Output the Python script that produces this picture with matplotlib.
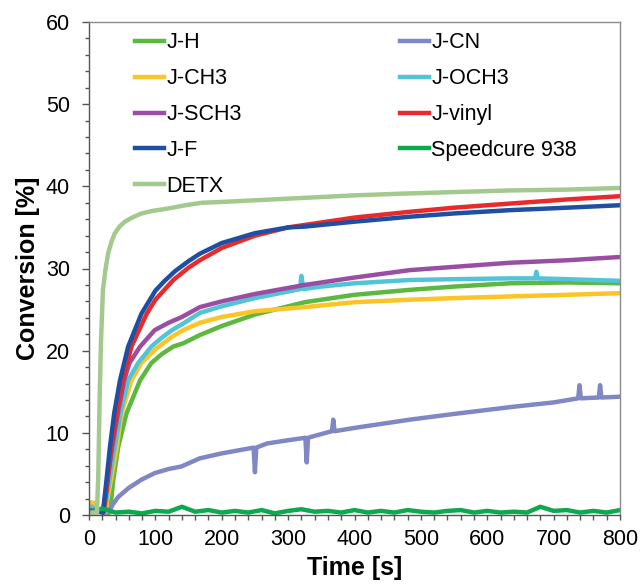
import numpy as np
import matplotlib
matplotlib.use("Agg")
import matplotlib.pyplot as plt
from matplotlib.ticker import MultipleLocator

plt.rcParams['font.family'] = ['Liberation Sans', 'DejaVu Sans']

# values, time in s, conversion in %
t_jh = [0, 15, 25, 31.6, 36.6, 44, 56.6, 77, 94, 110, 127, 142, 167, 200, 250, 325, 400, 483, 550, 634, 720, 800]
y_jh = [0.5, 0.5, 0.3, 0.3, 4.3, 8.3, 12.4, 16.4, 18.5, 19.6, 20.5, 20.9, 21.9, 23.0, 24.4, 25.9, 26.8, 27.4, 27.8, 28.2, 28.3, 28.2]

t_jcn = [0, 20, 29, 36, 44, 60, 79, 99, 120, 139, 167, 200, 248, 250, 252, 268, 300, 326, 328, 330, 343, 366, 368, 370,
         400, 483, 550, 642, 700, 737, 739, 741, 768, 770, 772, 800]
y_jcn = [0.5, 0.3, 0.3, 1.3, 2.2, 3.3, 4.3, 5.1, 5.6, 5.9, 6.9, 7.5, 8.2, 5.2, 8.2, 8.7, 9.1, 9.4, 6.4, 9.4, 9.7, 10.2, 11.6, 10.2,
         10.6, 11.6, 12.3, 13.2, 13.7, 14.2, 15.8, 14.2, 14.3, 15.8, 14.3, 14.4]

t_jch3 = [0, 8, 12, 18, 24, 33, 42, 49, 64, 79, 99, 125, 142, 167, 200, 250, 325, 400, 483, 550, 634, 720, 800]
y_jch3 = [1.5, 1.5, 0.5, 0.3, 0.3, 4.2, 8.3, 12.4, 16.4, 18.5, 20.1, 21.7, 22.5, 23.4, 24.1, 24.8, 25.3, 25.9, 26.2, 26.4, 26.6, 26.8, 27.0]

t_joch3 = [0, 5, 12, 18, 23, 31, 39, 48, 59, 74, 94, 110, 125, 142, 167, 200, 250, 300, 318, 320, 323, 350, 400, 483,
           550, 634, 672, 674, 676, 720, 800]
y_joch3 = [1.0, 1.0, 0.5, 0.3, 0.3, 4.3, 8.3, 12.6, 16.4, 18.5, 20.5, 21.6, 22.5, 23.3, 24.6, 25.4, 26.4, 27.2, 27.5, 29.1, 27.5,
           27.8, 28.2, 28.6, 28.7, 28.8, 28.8, 29.6, 28.8, 28.7, 28.5]

t_jsch3 = [0, 15, 21, 28, 35, 44, 53, 61, 77, 99, 120, 140, 167, 200, 250, 325, 400, 483, 550, 634, 720, 800]
y_jsch3 = [0.5, 0.5, 0.3, 4.5, 8.3, 12.6, 16.4, 18.5, 20.5, 22.5, 23.4, 24.1, 25.3, 26.0, 26.9, 28.0, 28.9, 29.8, 30.2, 30.7, 31.0, 31.4]

t_jvinyl = [0, 15, 22, 28, 34, 42, 50.7, 64, 87, 100, 127, 150, 167, 200, 250, 300, 325, 400, 483, 550, 634, 720, 800]
y_jvinyl = [0.5, 0.5, 0.3, 4.0, 8.3, 12.4, 16.4, 20.5, 24.5, 26.2, 28.6, 30.1, 31.0, 32.5, 34.0, 35.0, 35.3, 36.2, 36.9, 37.4, 37.9, 38.4, 38.8]

t_jf = [0, 15, 21, 26, 31.6, 38, 46.7, 59, 79, 100, 114, 130, 150, 167, 200, 250, 300, 325, 400, 483, 550, 634, 720, 800]
y_jf = [0.5, 0.5, 0.3, 4.0, 8.3, 12.4, 16.4, 20.5, 24.5, 27.3, 28.5, 29.7, 30.9, 31.8, 33.1, 34.3, 35.0, 35.1, 35.7, 36.3, 36.7, 37.1, 37.4, 37.7]

t_sc = list(range(0, 801, 20))
y_sc = [0.3, 0.8, 0.3, 0.4, 0.2, 0.5, 0.4, 1.0, 0.4, 0.6, 0.3, 0.5, 0.3, 0.6, 0.2, 0.5, 0.7, 0.4, 0.5, 0.3, 0.6,
        0.3, 0.5, 0.3, 0.6, 0.4, 0.3, 0.5, 0.6, 0.3, 0.5, 0.3, 0.4, 0.3, 1.0, 0.5, 0.6, 0.3, 0.5, 0.3, 0.6]

t_detx = [0, 12, 14, 16, 18, 21, 25, 29, 34, 39, 46, 54, 65, 79, 95, 119, 145, 170, 200, 250, 300, 350, 400, 468, 550, 634, 720, 800]
y_detx = [0.3, 0.3, 5, 14, 21, 27.4, 30, 31.9, 33.3, 34.3, 35.1, 35.7, 36.2, 36.7, 37.0, 37.3, 37.7, 38.0, 38.1, 38.3, 38.5,
          38.7, 38.9, 39.1, 39.3, 39.5, 39.6, 39.8]

series = [
    ("J-H", t_jh, y_jh, "#5cb83e"),
    ("J-CN", t_jcn, y_jcn, "#8087c5"),
    ("J-CH3", t_jch3, y_jch3, "#fdc426"),
    ("J-OCH3", t_joch3, y_joch3, "#52c4d8"),
    ("J-SCH3", t_jsch3, y_jsch3, "#9a4ea3"),
    ("J-vinyl", t_jvinyl, y_jvinyl, "#ea2a2a"),
    ("J-F", t_jf, y_jf, "#1f4fa2"),
    ("Speedcure 938", t_sc, y_sc, "#0caa4e"),
    ("DETX", t_detx, y_detx, "#a3c98f"),
]

fig = plt.figure(figsize=(6.4, 5.85), dpi=100)
ax = fig.add_axes([89 / 640, 1 - 515 / 585, 531 / 640, 493 / 585])

lines = {}
for name, t, y, c in series:
    lines[name], = ax.plot(t, y, color=c, lw=3.2, label=name, solid_joinstyle='round')

ax.set_xlim(0, 800)
ax.set_ylim(0, 60)
ax.xaxis.set_major_locator(MultipleLocator(100))
ax.xaxis.set_minor_locator(MultipleLocator(20))
ax.yaxis.set_major_locator(MultipleLocator(10))
ax.yaxis.set_minor_locator(MultipleLocator(2))
ax.tick_params(axis='y', which='major', direction='out', length=4.8, width=1, color='#555555', labelsize=15.5, pad=9)
ax.tick_params(axis='y', which='minor', direction='out', length=2.9, width=1, color='#555555')
ax.tick_params(axis='x', which='both', direction='out', length=3.6, width=1, color='#555555', labelsize=15.5, pad=6.5)
for s in ['left', 'bottom']:
    ax.spines[s].set_color('#555555')
for s in ['top', 'right']:
    ax.spines[s].set_color('#8c8c8c')
for s in ax.spines.values():
    s.set_linewidth(1.0)

ax.set_xlabel("Time [s]", fontsize=18, fontweight='bold', labelpad=4)
ax.set_ylabel("Conversion [%]", fontsize=18, fontweight='bold', labelpad=4)

left_names = ["J-H", "J-CH3", "J-SCH3", "J-F", "DETX"]
right_names = ["J-CN", "J-OCH3", "J-vinyl", "Speedcure 938"]
kw = dict(loc='upper left', frameon=False, fontsize=15.5, handlelength=1.35, handletextpad=0.1,
          labelspacing=0.69, borderpad=0, borderaxespad=0)
leg1 = ax.legend([lines[n] for n in left_names], left_names, bbox_to_anchor=(0.0866, 0.979), **kw)
ax.add_artist(leg1)
ax.legend([lines[n] for n in right_names], right_names, bbox_to_anchor=(0.5857, 0.979), **kw)

fig.savefig("out.png", dpi=100)
